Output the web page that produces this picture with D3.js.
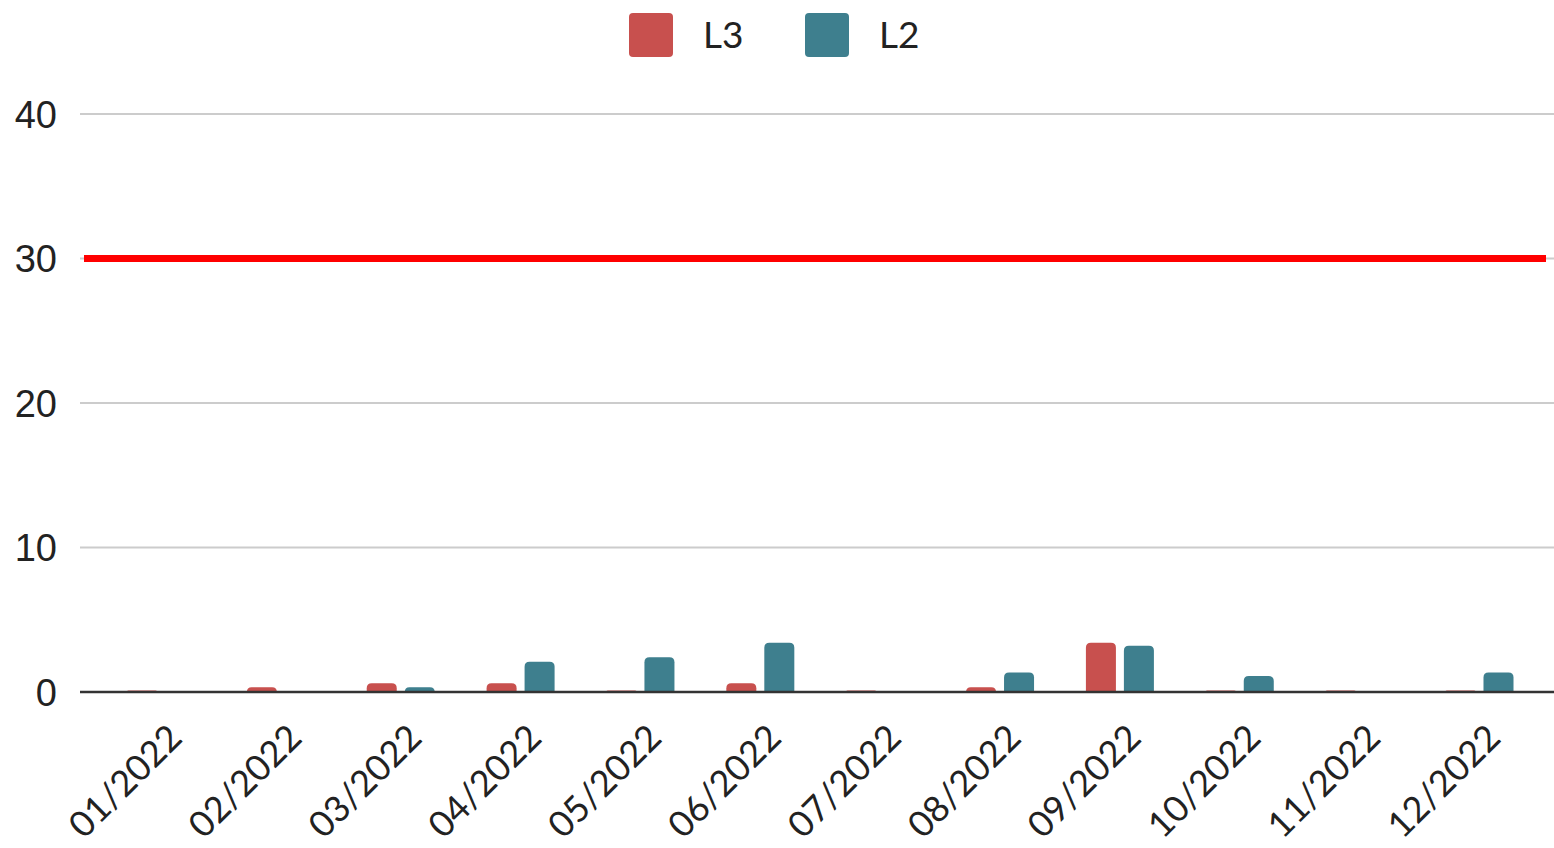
<!DOCTYPE html>
<html>
<head>
<meta charset="utf-8">
<script src="https://cdn.jsdelivr.net/npm/d3@7/dist/d3.min.js"></script>
<style>
  html, body { margin: 0; padding: 0; background: #fff; }
  svg { display: block; }
</style>
</head>
<body>
<svg id="chart" width="1554" height="848"></svg>
<script>
// Monthly counts per level
const months = ["01/2022","02/2022","03/2022","04/2022","05/2022","06/2022",
                "07/2022","08/2022","09/2022","10/2022","11/2022","12/2022"];
const seriesNames = ["L3", "L2"];
const l3Values = [0.1, 0.33, 0.6, 0.6, 0.1, 0.6, 0.1, 0.33, 3.4, 0.1, 0.1, 0.1];
const l2Values = [0, 0, 0.33, 2.1, 2.4, 3.4, 0, 1.35, 3.2, 1.1, 0, 1.35];
const yTicks = [0, 10, 20, 30, 40];
const targetValue = 30;

const colors = { L3: "#c8504e", L2: "#3e7f8e" };

const svg = d3.select("#chart");

const y = d3.scaleLinear().domain([0, 40]).range([692, 114]);
const x0 = d3.scalePoint().domain(months).range([161, 1479.5]);
const x1 = d3.scaleBand().domain(seriesNames).range([-34, 34]).paddingInner(0.21);

// Horizontal gridlines
svg.append("g")
  .selectAll("line")
  .data(yTicks.filter(t => t !== 0))
  .join("line")
  .attr("x1", 80).attr("x2", 1554)
  .attr("y1", d => y(d)).attr("y2", d => y(d))
  .attr("stroke", "#cccccc").attr("stroke-width", 2);

// Y axis labels
const yAxis = d3.axisLeft(y).tickValues(yTicks).tickSize(0).tickPadding(0);
const yg = svg.append("g").attr("transform", "translate(57,0)").call(yAxis);
yg.select(".domain").remove();
yg.selectAll("text")
  .attr("font-family", "'Liberation Sans', Arial, sans-serif")
  .attr("font-size", 38)
  .attr("fill", "#222")
  .attr("dy", "0.35em");

// Bars with rounded top corners
function barPath(x, w, yTop, yBase, r) {
  const h = yBase - yTop;
  const rr = Math.min(r, h, w / 2);
  return `M${x},${yBase} V${yTop + rr} Q${x},${yTop} ${x + rr},${yTop} H${x + w - rr} Q${x + w},${yTop} ${x + w},${yTop + rr} V${yBase} Z`;
}

const rows = months.map((m, i) => ({ month: m, L3: l3Values[i], L2: l2Values[i] }));

svg.append("g")
  .selectAll("g")
  .data(rows)
  .join("g")
  .attr("transform", d => `translate(${x0(d.month)},0)`)
  .selectAll("path")
  .data(d => seriesNames.map(s => ({ key: s, value: d[s] })).filter(d => d.value > 0))
  .join("path")
  .attr("d", d => barPath(x1(d.key), x1.bandwidth(), y(d.value), y(0), 5))
  .attr("fill", d => colors[d.key]);

// Baseline
svg.append("line")
  .attr("x1", 80).attr("x2", 1554)
  .attr("y1", y(0)).attr("y2", y(0))
  .attr("stroke", "#333").attr("stroke-width", 2.5);

// Target line
svg.append("line")
  .attr("x1", 84).attr("x2", 1546)
  .attr("y1", y(targetValue)).attr("y2", y(targetValue))
  .attr("stroke", "#ff0000").attr("stroke-width", 7);

// X axis labels, rotated
svg.append("g")
  .selectAll("text")
  .data(months)
  .join("text")
  .attr("transform", d => `translate(${x0(d) + 23},740) rotate(-45)`)
  .attr("text-anchor", "end")
  .attr("font-family", "Lato, 'Open Sans', sans-serif")
  .attr("font-size", 36)
  .attr("fill", "#222")
  .text(d => d);

// Legend
const legend = svg.append("g");
const legendItems = [{ key: "L3", x: 629 }, { key: "L2", x: 805 }];
legend.selectAll("rect")
  .data(legendItems)
  .join("rect")
  .attr("x", d => d.x).attr("y", 13)
  .attr("width", 44).attr("height", 44)
  .attr("rx", 4)
  .attr("fill", d => colors[d.key]);
legend.selectAll("text")
  .data(legendItems)
  .join("text")
  .attr("x", d => d.x + 74).attr("y", 35)
  .attr("dy", "0.36em")
  .attr("font-family", "Lato, sans-serif")
  .attr("font-size", 37)
  .attr("fill", "#222")
  .text(d => d.key);
</script>
</body>
</html>
